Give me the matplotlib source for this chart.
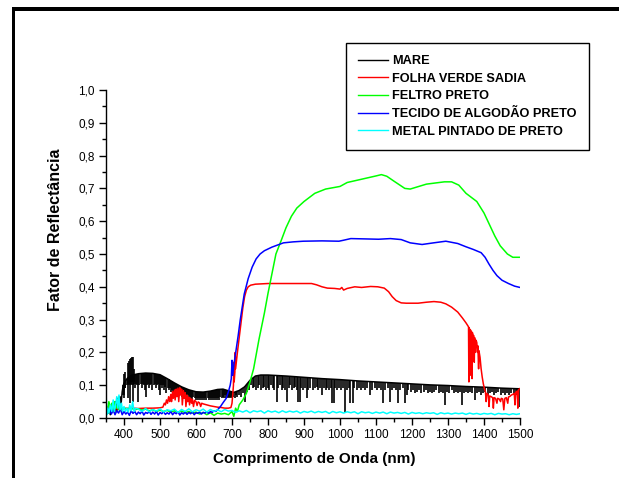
import numpy as np
import matplotlib
matplotlib.use("Agg")
import matplotlib.pyplot as plt
from matplotlib.patches import Rectangle
from matplotlib.ticker import MultipleLocator, FuncFormatter

plt.rcParams['font.family'] = ['Liberation Sans', 'DejaVu Sans']

# ---------------- data ----------------
labels = ["MARE", "FOLHA VERDE SADIA", "FELTRO PRETO",
          "TECIDO DE ALGODÃO PRETO", "METAL PINTADO DE PRETO"]
colors = ["#000000", "#FF0000", "#00FF00", "#0000FF", "#00FFFF"]

# MARE: upper envelope + downward spikes + a few upward spikes
mare_wl = [350, 353, 356, 359, 362, 365, 368, 371, 374, 377,
           380, 383, 386, 389, 392, 395, 398, 401, 405, 410,
           420, 440, 460, 480, 500, 520, 540, 560, 580, 600,
           620, 640, 660, 675, 690, 705, 720, 735, 750, 765,
           780, 800, 850, 900, 950, 1000, 1050, 1100, 1150, 1200,
           1250, 1300, 1350, 1400, 1450, 1500]
mare_val = [0.02, 0.03, 0.015, 0.025, 0.01, 0.03, 0.02, 0.04, 0.015, 0.05,
            0.02, 0.06, 0.03, 0.065, 0.045, 0.08, 0.1, 0.108, 0.115, 0.122,
            0.13, 0.135, 0.137, 0.136, 0.132, 0.12, 0.107, 0.095, 0.086, 0.08,
            0.079, 0.082, 0.087, 0.088, 0.083, 0.078, 0.084, 0.095, 0.115, 0.128,
            0.131, 0.131, 0.128, 0.124, 0.12, 0.117, 0.113, 0.11, 0.107, 0.104,
            0.101, 0.099, 0.096, 0.094, 0.091, 0.089]

mare_spike_wl = [398, 401, 404, 407, 410, 413, 416, 419, 422, 425,
                 428, 431, 434, 437, 440, 443, 446, 449, 452, 455,
                 458, 461, 464, 467, 470, 473, 476, 479, 482, 485,
                 488, 491, 494, 497, 500, 503, 506, 509, 512, 515,
                 518, 521, 524, 527, 530, 533, 536, 539, 542,
                 545, 548, 551, 554, 557, 560, 563, 566, 569, 572,
                 575, 578, 581, 584, 587, 590, 593, 596, 599, 602,
                 605, 608, 611, 614, 617, 620, 623, 626, 629, 632,
                 635, 638, 641, 644, 647, 650, 653, 656, 659, 662,
                 665, 668, 671, 674, 677, 680, 683, 686, 689, 692,
                 695, 698, 701, 704, 707, 710, 715, 720, 725, 730,
                 736, 742, 746,
                 752, 757, 762, 767, 772, 776, 781, 785, 790, 795,
                 799, 804, 808, 813, 818, 824, 829, 834, 838, 843,
                 848, 852, 857, 862, 866, 871, 876, 880, 884, 889,
                 893, 898, 902, 907, 912, 918, 924, 930, 935, 940,
                 944, 949, 955, 960, 965, 970, 974, 977, 982, 987,
                 992, 997, 1003, 1008, 1014, 1020, 1024, 1028, 1035, 1040,
                 1046, 1052, 1058, 1064, 1070, 1076, 1083, 1090, 1096, 1102,
                 1108, 1114, 1120, 1126, 1132, 1139, 1145, 1150, 1156, 1162,
                 1168, 1174, 1181, 1185, 1190, 1196, 1202, 1208, 1214, 1220,
                 1226, 1232, 1238, 1244, 1250, 1256, 1262, 1268, 1274, 1280,
                 1286, 1292, 1298, 1304, 1310, 1316, 1322, 1328, 1333, 1338,
                 1344, 1350, 1356, 1362, 1368, 1375, 1380, 1386, 1392, 1398,
                 1404, 1410, 1416, 1422, 1428, 1434, 1440, 1446, 1452, 1458,
                 1464, 1470, 1476, 1482, 1488, 1493, 1497]
mare_spike_min = [0.07, 0.06, 0.09, 0.1, 0.06, 0.105, 0.045, 0.1, 0.11, 0.05,
                  0.105, 0.09, 0.105, 0.1, 0.05, 0.1, 0.105, 0.09, 0.105, 0.1,
                  0.085, 0.065, 0.1, 0.105, 0.09, 0.1, 0.105, 0.085, 0.1, 0.105,
                  0.09, 0.1, 0.105, 0.085, 0.07, 0.1, 0.09, 0.1, 0.085, 0.095,
                  0.075, 0.09, 0.085, 0.09, 0.08, 0.085, 0.075, 0.08, 0.07,
                  0.07, 0.08, 0.065, 0.075, 0.07, 0.065, 0.075, 0.06, 0.07, 0.065,
                  0.06, 0.07, 0.055, 0.065, 0.06, 0.055, 0.065, 0.06, 0.055, 0.06,
                  0.055, 0.06, 0.055, 0.06, 0.055, 0.06, 0.055, 0.06, 0.055, 0.06,
                  0.055, 0.06, 0.055, 0.06, 0.055, 0.06, 0.055, 0.06, 0.055, 0.06,
                  0.055, 0.065, 0.06, 0.065, 0.06, 0.07, 0.06, 0.065, 0.06, 0.065,
                  0.06, 0.065, 0.06, 0.065, 0.06, 0.07, 0.065, 0.07, 0.065, 0.075,
                  0.05, 0.08, 0.085,
                  0.1, 0.09, 0.095, 0.085, 0.09, 0.1, 0.085, 0.09, 0.095, 0.085,
                  0.09, 0.085, 0.1, 0.09, 0.085, 0.05, 0.09, 0.1, 0.085, 0.09,
                  0.085, 0.05, 0.09, 0.1, 0.085, 0.09, 0.095, 0.085, 0.05, 0.05,
                  0.09, 0.085, 0.09, 0.06, 0.085, 0.09, 0.085, 0.09, 0.095, 0.085,
                  0.09, 0.07, 0.09, 0.085, 0.09, 0.085, 0.09, 0.045, 0.045, 0.09,
                  0.085, 0.09, 0.085, 0.09, 0.015, 0.085, 0.09, 0.045, 0.045, 0.09,
                  0.085, 0.09, 0.085, 0.09, 0.085, 0.09, 0.07, 0.085, 0.09, 0.085,
                  0.09, 0.085, 0.045, 0.085, 0.09, 0.05, 0.085, 0.09, 0.085, 0.045,
                  0.085, 0.09, 0.045, 0.07, 0.085, 0.08, 0.085, 0.075, 0.08, 0.085,
                  0.075, 0.08, 0.085, 0.075, 0.08, 0.075, 0.08, 0.085, 0.075, 0.08,
                  0.075, 0.04, 0.08, 0.075, 0.085, 0.075, 0.08, 0.075, 0.08, 0.04,
                  0.075, 0.08, 0.075, 0.08, 0.075, 0.055, 0.075, 0.08, 0.07, 0.075,
                  0.08, 0.07, 0.075, 0.08, 0.07, 0.075, 0.08, 0.07, 0.075, 0.07,
                  0.075, 0.07, 0.075, 0.07, 0.075, 0.07, 0.035]

mare_up_wl = [399, 402, 411, 414, 417, 420, 423, 426, 429]
mare_up_lo = [0.07, 0.09, 0.105, 0.1, 0.11, 0.105, 0.11, 0.1, 0.11]
mare_up_hi = [0.135, 0.14, 0.168, 0.175, 0.18, 0.183, 0.185, 0.186, 0.15]

# FOLHA VERDE SADIA
red_wl = [350, 355, 360, 365, 370, 380, 390, 400, 420, 440, 460, 480, 500, 508,
          512, 515, 518, 521, 524, 527, 530, 532, 535, 537, 540, 542, 545, 547,
          550, 552, 555, 557, 560, 562, 565, 567, 570, 572, 575, 577, 580, 582,
          585, 588, 590, 593, 596, 600, 603, 606, 610, 613, 616, 620, 630, 640,
          650, 660, 670, 680, 690, 697,
          700, 702, 704, 705, 706, 708, 709, 710, 712, 715, 720, 725, 730, 735,
          740, 745, 752, 765, 800, 850, 900, 921, 935, 950, 965, 985, 1000, 1005,
          1010, 1020, 1041, 1060, 1085, 1105, 1123, 1135, 1145, 1156, 1170, 1184,
          1217, 1240, 1261, 1280, 1294, 1310, 1327, 1340, 1350, 1357,
          1358, 1359, 1361, 1362, 1364, 1365, 1367, 1368, 1370, 1371, 1373, 1374,
          1376, 1378, 1380, 1382, 1383, 1385, 1386, 1389, 1392, 1395, 1398, 1401,
          1404, 1406, 1408, 1412, 1414, 1416, 1420, 1424, 1426, 1428, 1432, 1436,
          1438, 1442, 1446, 1448, 1452, 1455, 1458, 1462, 1466, 1468, 1472, 1476,
          1480, 1484, 1486, 1488, 1492, 1494, 1496, 1500]
red_val = [0.04, 0.02, 0.035, 0.025, 0.03, 0.028, 0.03, 0.029, 0.03, 0.029, 0.03, 0.03, 0.031, 0.033,
           0.045, 0.04, 0.055, 0.045, 0.065, 0.05, 0.072, 0.05, 0.08, 0.06, 0.085, 0.055, 0.088, 0.065,
           0.091, 0.05, 0.092, 0.07, 0.088, 0.04, 0.083, 0.06, 0.077, 0.035, 0.07, 0.05, 0.064, 0.04,
           0.06, 0.045, 0.057, 0.035, 0.054, 0.05, 0.038, 0.049, 0.046, 0.035, 0.045, 0.043, 0.04, 0.037,
           0.035, 0.033, 0.032, 0.03, 0.03, 0.032,
           0.045, 0.07, 0.1, 0.17, 0.11, 0.14, 0.2, 0.15, 0.17, 0.2, 0.245, 0.29, 0.335, 0.37,
           0.39, 0.4, 0.405, 0.408, 0.41, 0.41, 0.41, 0.41, 0.406, 0.4, 0.396, 0.395, 0.393, 0.398,
           0.39, 0.395, 0.4, 0.398, 0.401, 0.4, 0.396, 0.385, 0.37, 0.358, 0.351, 0.35,
           0.35, 0.353, 0.355, 0.353, 0.348, 0.338, 0.323, 0.305, 0.29, 0.278,
           0.11, 0.275, 0.13, 0.27, 0.17, 0.265, 0.12, 0.26, 0.19, 0.252, 0.17, 0.245,
           0.2, 0.237, 0.23, 0.2, 0.22, 0.15, 0.205, 0.185, 0.15, 0.125, 0.105, 0.09,
           0.08, 0.05, 0.075, 0.07, 0.035, 0.067, 0.065, 0.062, 0.03, 0.062, 0.06, 0.045,
           0.06, 0.058, 0.05, 0.06, 0.058, 0.025, 0.06, 0.062, 0.045, 0.064, 0.066, 0.07,
           0.072, 0.075, 0.04, 0.078, 0.082, 0.03, 0.086, 0.09]

# FELTRO PRETO
green_wl = [350, 354, 358, 362, 366, 370, 374, 378, 382, 386, 390, 395, 400, 410,
            420, 430, 440, 450, 460, 470, 480, 490, 500, 510, 520, 530, 540, 550,
            560, 570, 580, 590, 600, 610, 620, 630, 640, 650, 660, 670, 680, 690,
            700, 705, 710, 715, 720, 730, 740, 750, 760, 775, 790, 800, 811, 822,
            838, 850, 865, 880, 900, 930, 960, 1000, 1020, 1060, 1100, 1115, 1130,
            1150, 1180, 1195, 1240, 1290, 1310, 1330, 1350, 1380, 1400, 1415, 1430,
            1445, 1465, 1480, 1500]
green_val = [0.04, 0.02, 0.05, 0.03, 0.045, 0.02, 0.05, 0.03, 0.04, 0.025, 0.035, 0.025, 0.03, 0.028,
             0.03, 0.025, 0.028, 0.024, 0.027, 0.022, 0.025, 0.02, 0.024, 0.02, 0.023, 0.018, 0.022, 0.017,
             0.021, 0.016, 0.02, 0.015, 0.018, 0.012, 0.017, 0.01, 0.016, 0.008, 0.015, 0.012, 0.014, 0.01,
             0.02, 0.005, 0.03, 0.02, 0.04, 0.055, 0.075, 0.11, 0.15, 0.24, 0.32, 0.38, 0.44, 0.5,
             0.545, 0.58, 0.615, 0.64, 0.66, 0.685, 0.698, 0.706, 0.718, 0.728, 0.738, 0.742, 0.737,
             0.722, 0.7, 0.698, 0.713, 0.72, 0.72, 0.71, 0.685, 0.66, 0.625, 0.59, 0.555,
             0.525, 0.5, 0.49, 0.49]

# TECIDO DE ALGODÃO PRETO
blue_wl = list(range(350, 656, 5)) + [
    660, 668, 676, 684, 690, 695, 698, 700, 702, 705, 709, 713, 717, 723, 734, 745,
    756, 767, 778, 790, 811, 843, 870, 898, 950, 997, 1010, 1030, 1070, 1107, 1140,
    1170, 1195, 1228, 1260, 1294, 1327, 1350, 1370, 1392, 1403, 1414, 1425, 1436,
    1450, 1468, 1485, 1500]
blue_val = [0.035, 0.02, 0.03, 0.012, 0.025, 0.01, 0.022, 0.015, 0.028, 0.01,
            0.02, 0.012, 0.018, 0.008, 0.022, 0.014, 0.02, 0.01, 0.018, 0.013,
            0.021, 0.009, 0.017, 0.014, 0.02, 0.011, 0.018, 0.012, 0.02, 0.009,
            0.017, 0.013, 0.019, 0.011, 0.016, 0.012, 0.02, 0.01, 0.017, 0.013,
            0.019, 0.009, 0.016, 0.012, 0.018, 0.011, 0.017, 0.013, 0.019, 0.01,
            0.016, 0.014, 0.018, 0.012, 0.017, 0.015, 0.019, 0.014, 0.02, 0.017,
            0.022, 0.02,
            0.025, 0.035, 0.048, 0.06, 0.08, 0.1, 0.12, 0.176, 0.13, 0.16, 0.19, 0.22,
            0.25, 0.3, 0.378, 0.425, 0.46, 0.485, 0.5, 0.51, 0.521, 0.534, 0.537, 0.539,
            0.54, 0.539, 0.542, 0.547, 0.546, 0.545, 0.547, 0.544, 0.534, 0.529, 0.534,
            0.539, 0.532, 0.522, 0.514, 0.504, 0.49, 0.469, 0.45, 0.434, 0.42, 0.41,
            0.402, 0.398]

# METAL PINTADO DE PRETO
cyan_wl = [350, 352, 355, 358, 362, 366, 370, 373, 376, 380, 383, 386, 389, 393,
           396, 400, 404, 408, 412, 416, 420, 424, 428, 432] + list(range(440, 1501, 10))
cyan_val = [0.09, 0.01, 0.03, 0.015, 0.04, 0.02, 0.055, 0.02, 0.035, 0.065, 0.03, 0.07, 0.025, 0.045,
            0.02, 0.035, 0.02, 0.03, 0.018, 0.04, 0.022, 0.05, 0.02, 0.03,
            0.027, 0.02, 0.029, 0.019, 0.026, 0.021, 0.028, 0.018, 0.025, 0.022,
            0.027, 0.017, 0.026, 0.02, 0.028, 0.019, 0.025, 0.021, 0.027, 0.018,
            0.026, 0.02, 0.025, 0.019, 0.026, 0.021,
            0.023, 0.017, 0.022, 0.018, 0.023, 0.016, 0.022, 0.019, 0.022, 0.015,
            0.022, 0.018, 0.021, 0.016, 0.022, 0.017, 0.021, 0.018, 0.021, 0.015,
            0.02, 0.017, 0.021, 0.016, 0.02, 0.017, 0.02, 0.014, 0.02, 0.016,
            0.019, 0.015, 0.019, 0.016, 0.019, 0.013, 0.019, 0.016, 0.018, 0.014,
            0.018, 0.015, 0.018, 0.013, 0.018, 0.015, 0.017, 0.014, 0.017, 0.012,
            0.017, 0.014, 0.016, 0.013, 0.016, 0.014, 0.016, 0.011, 0.016, 0.013,
            0.015, 0.012, 0.015, 0.013, 0.015, 0.011, 0.015, 0.012, 0.014, 0.011,
            0.014, 0.012, 0.014, 0.01, 0.014, 0.012, 0.013, 0.01, 0.013, 0.011,
            0.013]

x_ticks = [400, 500, 600, 700, 800, 900, 1000, 1100, 1200, 1300, 1400, 1500]
y_ticks = [0.0, 0.1, 0.2, 0.3, 0.4, 0.5, 0.6, 0.7, 0.8, 0.9, 1.0]

# ---------------- figure ----------------
W, H = 619, 478
fig = plt.figure(figsize=(W / 100, H / 100), dpi=100)
ax = fig.add_axes([106 / W, 1 - 418 / H, (520 - 106) / W, (418 - 90) / H])

lw = 1.1
ax.plot(mare_wl, mare_val, color=colors[0], lw=lw, label=labels[0])
spike_top = np.interp(mare_spike_wl, mare_wl, mare_val)
ax.vlines(mare_spike_wl, mare_spike_min, spike_top, color=colors[0], lw=1.2)
ax.vlines(mare_up_wl, mare_up_lo, mare_up_hi, color=colors[0], lw=1.2)
ax.plot(red_wl, red_val, color=colors[1], lw=lw, label=labels[1])
ax.plot(green_wl, green_val, color=colors[2], lw=lw, label=labels[2])
ax.plot(blue_wl, blue_val, color=colors[3], lw=lw, label=labels[3])
ax.plot(cyan_wl, cyan_val, color=colors[4], lw=lw, label=labels[4])

ax.set_xlim(350, 1500)
ax.set_ylim(0, 1.0)
for s in ["top", "right"]:
    ax.spines[s].set_visible(False)
for s in ["left", "bottom"]:
    ax.spines[s].set_linewidth(1.0)

ax.set_xticks(x_ticks)
ax.set_yticks(y_ticks)
ax.xaxis.set_minor_locator(MultipleLocator(50))
ax.yaxis.set_minor_locator(MultipleLocator(0.05))
ax.yaxis.set_major_formatter(FuncFormatter(lambda v, p: f"{v:.1f}".replace(".", ",")))
ax.tick_params(which="major", direction="out", length=5, width=1, labelsize=8.5, pad=3)
ax.tick_params(which="minor", direction="out", length=3, width=1)

ax.set_xlabel("Comprimento de Onda (nm)", fontsize=11, fontweight="bold")
ax.set_ylabel("Fator de Reflectância", fontsize=11.5, fontweight="bold")
ax.xaxis.set_label_coords(0.502, -0.104)
ax.yaxis.set_label_coords(-0.104, 0.573)

leg = fig.legend(loc="upper left", bbox_to_anchor=(346 / W, 1 - 43 / H),
                 borderaxespad=0, frameon=True, fancybox=False, framealpha=1,
                 edgecolor="black", prop={"weight": "bold", "size": 9.2},
                 handlelength=2.3, handletextpad=0.35, borderpad=0.95,
                 labelspacing=0.44)
leg.get_frame().set_linewidth(1.0)
for h in leg.get_lines():
    h.set_linewidth(1.0)

# outer frame (top and left black bars)
fig.add_artist(Rectangle((12 / W, 0), 3.5 / W, (H - 7) / H, transform=fig.transFigure,
                         color="black", lw=0))
fig.add_artist(Rectangle((12 / W, 1 - 10.5 / H), (W - 12) / W, 3.5 / H,
                         transform=fig.transFigure, color="black", lw=0))

fig.savefig("out.png", dpi=100)
